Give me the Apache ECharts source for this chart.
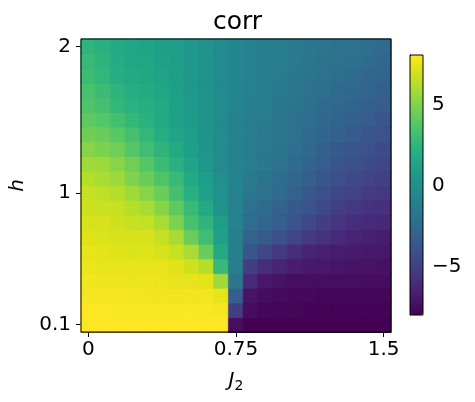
<!DOCTYPE html>
<html><head><meta charset="utf-8">
<script src="https://cdn.jsdelivr.net/npm/echarts@6/dist/echarts.min.js"></script>
<style>html,body{margin:0;padding:0;background:#fff}#c{width:475px;height:402px}</style>
</head><body><div id="c"></div>
<script>
// J2 values (x categories) and h values (y categories)
const J2 = [0, 0.075, 0.15, 0.225, 0.3, 0.375, 0.45, 0.525, 0.6, 0.675, 0.75, 0.825, 0.9, 0.975, 1.05, 1.125, 1.2, 1.275, 1.35, 1.425, 1.5];
const H = [0.1, 0.2, 0.3, 0.4, 0.5, 0.6, 0.7, 0.8, 0.9, 1, 1.1, 1.2, 1.3, 1.4, 1.5, 1.6, 1.7, 1.8, 1.9, 2];
const xTickValues = [0, 0.75, 1.5];
const yTickValues = [0.1, 1, 2];
const cbarTicks = [-5, 0, 5];
const corrMin = -8.0;
const corrMax = 8.1;

// corr values, one row per h, from h = 2.0 (top) down to h = 0.1 (bottom)
const corr_h20 = [2.5, 2.1, 1.8, 1.5, 1.3, 1.0, 0.9, 0.5, 0.1, -0.3, -0.6, -0.9, -1.1, -1.2, -1.4, -1.6, -1.7, -1.9, -2.0, -2.2, -2.5];
const corr_h19 = [2.8, 2.4, 1.9, 1.6, 1.5, 1.2, 0.9, 0.5, 0.1, -0.3, -0.6, -0.9, -1.1, -1.2, -1.4, -1.7, -1.9, -2.0, -2.2, -2.4, -2.7];
const corr_h18 = [3.0, 2.6, 2.0, 1.8, 1.6, 1.3, 1.0, 0.5, 0.1, -0.3, -0.6, -0.9, -1.1, -1.3, -1.6, -1.8, -2.0, -2.2, -2.4, -2.7, -2.8];
const corr_h17 = [3.4, 3.0, 2.4, 2.0, 1.8, 1.5, 1.0, 0.5, 0.1, -0.3, -0.7, -1.0, -1.2, -1.4, -1.7, -2.0, -2.2, -2.4, -2.6, -2.8, -3.1];
const corr_h16 = [3.6, 3.3, 2.6, 2.2, 2.0, 1.7, 1.2, 0.7, 0.2, -0.3, -0.7, -1.1, -1.2, -1.6, -1.8, -2.1, -2.4, -2.6, -2.8, -3.1, -3.3];
const corr_h15 = [4.1, 3.8, 3.3, 2.7, 2.2, 1.7, 1.2, 0.8, 0.3, -0.3, -0.8, -1.2, -1.3, -1.6, -2.0, -2.3, -2.6, -2.8, -3.1, -3.3, -3.7];
const corr_h14 = [4.6, 4.4, 3.9, 3.3, 2.6, 2.0, 1.3, 0.9, 0.2, -0.3, -0.8, -1.2, -1.4, -1.7, -2.0, -2.4, -2.8, -3.2, -3.4, -3.7, -4.0];
const corr_h13 = [5.2, 4.9, 4.6, 3.8, 3.1, 2.5, 1.7, 1.0, 0.4, -0.3, -0.8, -1.3, -1.5, -1.8, -2.2, -2.6, -3.1, -3.5, -3.7, -4.0, -4.3];
const corr_h12 = [5.8, 5.7, 5.2, 4.6, 3.8, 3.0, 2.1, 1.3, 0.5, -0.3, -0.8, -1.2, -1.6, -2.0, -2.4, -2.8, -3.3, -3.8, -4.1, -4.4, -4.6];
const corr_h11 = [6.3, 6.0, 5.7, 5.0, 4.4, 3.6, 2.8, 1.7, 0.9, -0.1, -0.8, -1.4, -1.8, -2.3, -2.7, -3.2, -3.7, -4.2, -4.5, -4.8, -5.0];
const corr_h10 = [6.7, 6.5, 6.3, 5.8, 5.2, 4.4, 3.3, 2.1, 1.2, 0.1, -0.9, -1.6, -2.0, -2.5, -3.0, -3.6, -4.1, -4.6, -4.9, -5.2, -5.4];
const corr_h09 = [6.9, 6.8, 6.7, 6.3, 6.0, 5.2, 4.1, 2.8, 1.7, 0.2, -0.9, -2.0, -2.4, -3.0, -3.5, -4.0, -4.5, -5.1, -5.4, -5.7, -5.8];
const corr_h08 = [7.1, 7.1, 6.9, 6.7, 6.6, 6.0, 4.9, 3.4, 2.5, 0.9, -0.9, -2.2, -2.7, -3.2, -3.8, -4.5, -5.1, -5.6, -5.9, -6.1, -6.2];
const corr_h07 = [7.3, 7.2, 7.1, 7.1, 7.1, 6.7, 6.0, 4.4, 3.1, 1.2, -1.1, -2.9, -3.4, -4.1, -4.8, -5.3, -5.7, -6.1, -6.4, -6.6, -6.7];
const corr_h06 = [7.5, 7.4, 7.3, 7.2, 7.3, 7.1, 6.7, 6.0, 4.4, 1.7, -1.1, -3.7, -4.6, -5.3, -5.9, -6.4, -6.6, -6.7, -6.8, -6.9, -7.0];
const corr_h05 = [7.6, 7.5, 7.5, 7.5, 7.5, 7.5, 7.3, 6.9, 6.3, 2.8, -1.2, -5.1, -5.9, -6.4, -6.7, -6.9, -7.0, -7.1, -7.2, -7.2, -7.3];
const corr_h04 = [7.8, 7.7, 7.7, 7.6, 7.7, 7.6, 7.5, 7.5, 7.4, 5.8, -1.7, -6.1, -7.0, -7.2, -7.4, -7.4, -7.4, -7.4, -7.4, -7.5, -7.5];
const corr_h03 = [7.9, 7.9, 7.9, 7.9, 7.8, 7.8, 7.8, 7.8, 7.8, 7.5, -3.2, -7.2, -7.5, -7.6, -7.7, -7.7, -7.8, -7.8, -7.8, -7.8, -7.8];
const corr_h02 = [8.1, 8.1, 8.0, 8.0, 8.0, 8.0, 8.0, 8.0, 8.0, 7.9, -5.1, -7.5, -7.8, -7.8, -7.8, -7.9, -7.9, -7.9, -7.9, -7.9, -7.9];
const corr_h01 = [8.1, 8.1, 8.1, 8.1, 8.1, 8.1, 8.1, 8.1, 8.1, 8.1, -7.4, -8.0, -8.0, -8.0, -8.0, -8.0, -8.0, -8.0, -8.0, -8.0, -8.0];

const corrRows = [corr_h01, corr_h02, corr_h03, corr_h04, corr_h05, corr_h06, corr_h07, corr_h08, corr_h09, corr_h10,
  corr_h11, corr_h12, corr_h13, corr_h14, corr_h15, corr_h16, corr_h17, corr_h18, corr_h19, corr_h20];

const viridis = ['#440154','#471365','#482475','#463480','#414487','#3b528b','#355f8d','#2f6c8e','#2a788e','#25848e','#21918c','#1e9c89','#22a884','#2fb47c','#44bf70','#5ec962','#7ad151','#9bd93c','#bddf26','#dfe318','#fde725'];

// heatmap items; a thin same-colour border hides anti-aliasing seams between cells
const data = [];
corrRows.forEach((row, yi) => row.forEach((v, xi) => {
  const c = echarts.color.lerp((v - corrMin) / (corrMax - corrMin), viridis);
  data.push({value: [xi, yi, v], itemStyle: {borderColor: c, borderWidth: 0.6}});
}));

const FONT = 'DejaVu Sans';
const chart = echarts.init(document.getElementById('c'), null, {renderer: 'canvas'});
chart.setOption({
  animation: false,
  backgroundColor: '#fff',
  title: {
    text: 'corr', left: 'center', top: 5,
    textStyle: {fontFamily: FONT, fontSize: 25, fontWeight: 'normal', color: '#000'}
  },
  grid: [
    {left: 81, top: 39, width: 310, height: 293, show: true, borderColor: '#000', borderWidth: 1, z: 5, backgroundColor: 'transparent'},
    {left: 410, top: 55, width: 13, height: 260, show: true, borderColor: '#000', borderWidth: 1, z: 10, backgroundColor: 'transparent'}
  ],
  xAxis: [
    {
      type: 'category', gridIndex: 0, data: J2.map(String),
      name: '{i|J}{s|2}', nameLocation: 'middle', nameGap: 37,
      nameTextStyle: {
        rich: {
          i: {fontFamily: FONT, fontStyle: 'italic', fontSize: 20, color: '#000', lineHeight: 24, verticalAlign: 'middle'},
          s: {fontFamily: FONT, fontSize: 14, color: '#000', lineHeight: 14, verticalAlign: 'bottom'}
        }
      },
      axisLine: {show: true, lineStyle: {color: '#000', width: 1}},
      axisTick: {show: true, alignWithLabel: true, length: 5, lineStyle: {color: '#000', width: 1},
        interval: (i, v) => xTickValues.includes(Number(v))},
      axisLabel: {show: true, margin: 8, fontFamily: FONT, fontSize: 20, color: '#000',
        interval: (i, v) => xTickValues.includes(Number(v)), formatter: v => String(Number(v))},
      splitLine: {show: false}
    },
    {type: 'value', gridIndex: 1, show: false, min: 0, max: 1}
  ],
  yAxis: [
    {
      type: 'category', gridIndex: 0, data: H.map(String),
      name: 'h', nameLocation: 'middle', nameGap: 50,
      nameTextStyle: {fontFamily: FONT, fontStyle: 'italic', fontSize: 20, color: '#000'},
      axisLine: {show: true, lineStyle: {color: '#000', width: 1}},
      axisTick: {show: true, alignWithLabel: true, length: 5, lineStyle: {color: '#000', width: 1},
        interval: (i, v) => yTickValues.includes(Number(v))},
      axisLabel: {show: true, margin: 10, fontFamily: FONT, fontSize: 20, color: '#000',
        interval: (i, v) => yTickValues.includes(Number(v)), formatter: v => String(Number(v))},
      splitLine: {show: false}
    },
    {
      type: 'value', gridIndex: 1, position: 'right', min: corrMin, max: corrMax,
      axisLine: {show: true, lineStyle: {color: '#000', width: 1}},
      axisTick: {show: true, length: 5, customValues: cbarTicks, lineStyle: {color: '#000', width: 1}},
      axisLabel: {show: true, margin: 9, customValues: cbarTicks, fontFamily: FONT, fontSize: 20, color: '#000',
        formatter: v => String(v).replace('-', '\u2212')},
      splitLine: {show: false}
    }
  ],
  visualMap: {
    type: 'continuous', min: corrMin, max: corrMax, seriesIndex: 0, dimension: 2,
    left: 410, top: 55, itemWidth: 13, itemHeight: 260, padding: 0,
    calculable: false, hoverLink: false, text: null, showLabel: false,
    inRange: {color: viridis}
  },
  series: [{
    type: 'heatmap', xAxisIndex: 0, yAxisIndex: 0, data: data,
    emphasis: {disabled: true}, progressive: 0
  }]
});
</script></body></html>
